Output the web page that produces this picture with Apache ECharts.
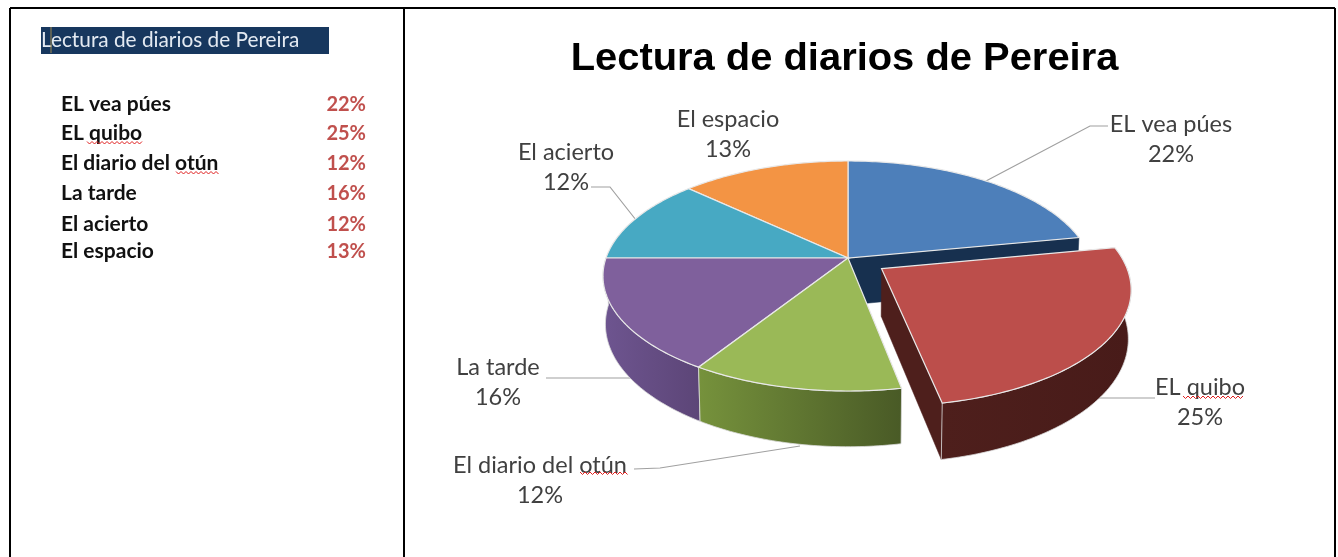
<!DOCTYPE html>
<html><head><meta charset="utf-8">
<style>html,body{margin:0;padding:0;background:#fff}#c{width:1338px;height:557px;filter:blur(0.45px)}</style>
<script src="https://cdn.jsdelivr.net/npm/echarts@6/dist/echarts.min.js"></script>
</head><body><div id="c"></div>
<script>
const chartTitle = 'Lectura de diarios de Pereira';
const categories = ['EL vea púes', 'EL quibo', 'El diario del otún', 'La tarde', 'El acierto', 'El espacio'];
const percentages = [22, 25, 12, 16, 12, 13];
const explodedIndex = 1;
const topColors = ['#4D7FBA', '#BC4E4B', '#9AB957', '#7F609C', '#47A9C3', '#F39444'];
const wallColors = [['#17304F', '#17304F'], ['#4E1F1C', '#481B19'], ['#76923C', '#495A26'], ['#6E5590', '#5C4577'], ['#31859C', '#31859C'], ['#E36C09', '#E36C09']];

// projection of the tilted disc
const CX = 848, CY = 258, RX = 242, RY = 112.2, P = 0.1565, H = 47, BX = 0.99, EXPLODE = 0.165;
const total = percentages.reduce((a, b) => a + b, 0);
const starts = []; percentages.reduce((acc, v, i) => (starts[i] = acc, acc + v), 0);
const ang = pct => pct / total * 2 * Math.PI;
function offset(i) {
  if (i !== explodedIndex) return [0, 0];
  const m = ang(starts[i] + percentages[i] / 2);
  return [EXPLODE * Math.sin(m), -EXPLODE * Math.cos(m)];
}
function proj(u, v, low) {
  const w = 1 - P * v;
  const x = RX * u / w, y = RY * v / w;
  return low ? [CX + x * BX, CY + y + H / w] : [CX + x, CY + y];
}
function arc(i, a0, a1, low) {
  const [ox, oy] = offset(i), pts = [], n = Math.max(2, Math.ceil(Math.abs(a1 - a0) * 60));
  for (let k = 0; k <= n; k++) {
    const a = a0 + (a1 - a0) * k / n;
    pts.push(proj(ox + Math.sin(a), oy - Math.cos(a), low));
  }
  return pts;
}
const apex = (i, low) => { const [ox, oy] = offset(i); return proj(ox, oy, low); };
const sA = i => ang(starts[i]), eA = i => ang(starts[i] + percentages[i]);

function topFace(i) { return [apex(i, false)].concat(arc(i, sA(i), eA(i), false)); }
function arcWall(i, a0, a1) { return arc(i, a0, a1, false).concat(arc(i, a0, a1, true).reverse()); }
function endWall(i) { const p = arc(i, eA(i), eA(i), false)[0], q = arc(i, eA(i), eA(i), true)[0]; return [apex(i, false), p, q, apex(i, true)]; }

// painter's order
const drawList = [
  { i: 0, part: 'end' }, { i: 0, part: 'top' }, { i: 5, part: 'top' }, { i: 4, part: 'top' },
  { i: 3, part: 'arc', to: 1.5 * Math.PI }, { i: 2, part: 'arc' }, { i: 3, part: 'top' }, { i: 2, part: 'top' },
  { i: 1, part: 'end' }, { i: 1, part: 'arc', from: 0.5 * Math.PI }, { i: 1, part: 'top' }
];
function grad(c) { return new echarts.graphic.LinearGradient(0, 0, 1, 0, [{ offset: 0, color: c[0] }, { offset: 1, color: c[1] }]); }
function renderSlice(params) {
  const d = drawList[params.dataIndex];
  let points, style;
  if (d.part === 'top') {
    points = topFace(d.i);
    style = { fill: topColors[d.i], stroke: '#E8E8E8', lineWidth: 1.2 };
  } else if (d.part === 'end') {
    points = endWall(d.i);
    style = { fill: wallColors[d.i][0], stroke: wallColors[d.i][0], lineWidth: 0.5 };
  } else {
    const a0 = d.from !== undefined ? Math.max(d.from, sA(d.i)) : sA(d.i);
    const a1 = d.to !== undefined ? Math.min(d.to, eA(d.i)) : eA(d.i);
    points = arcWall(d.i, a0, a1);
    style = { fill: grad(wallColors[d.i]), stroke: '#DADADA', lineWidth: 0.8 };
  }
  return { type: 'polygon', shape: { points }, style };
}

// left table
const tableRowY = [104, 133, 163, 193, 224, 251];
const frame = [[10, 557, 10, 8], [10, 8, 1335, 8], [404, 8, 404, 557], [1335, 8, 1335, 557]];
// data labels: centre of the two-line block
const labelLayout = [[1171, 139], [1200, 402], [540, 480], [498, 382], [566, 167], [728, 134]];
const leaders = [
  [[1108, 126], [1090, 126], [986, 181]],
  [[1155, 398], [1095, 398]],
  [[634, 469], [660, 468], [800, 446]],
  [[546, 378], [640, 378]],
  [[591, 187], [610, 187], [636, 220]]
];
const squiggles = [[87, 143, 142.5], [176, 219, 172.5], [1183, 1245, 397], [580, 628, 473]];

const font = 'Lato, "Noto Sans", sans-serif';
const graphics = [];
frame.forEach(f => graphics.push({ type: 'line', shape: { x1: f[0], y1: f[1], x2: f[2], y2: f[3] }, style: { stroke: '#000', lineWidth: 2 }, z: 1 }));
graphics.push({ type: 'rect', shape: { x: 41, y: 27, width: 288, height: 27 }, style: { fill: '#17375E' }, z: 1 });
graphics.push({ type: 'text', x: 41, y: 40, style: { text: chartTitle, fill: '#E4EAF2', font: '20.8px ' + font, textVerticalAlign: 'middle' }, z: 2 });
graphics.push({ type: 'line', shape: { x1: 51, y1: 27, x2: 51, y2: 53 }, style: { stroke: '#A08A50', lineWidth: 1 }, z: 3 });
categories.forEach((c, i) => {
  graphics.push({ type: 'text', x: 61, y: tableRowY[i], style: { text: c, fill: '#111', font: 'bold 21px ' + font, textVerticalAlign: 'middle' }, z: 2 });
  graphics.push({ type: 'text', x: 366, y: tableRowY[i] + 1, style: { text: percentages[i] + '%', fill: '#C0504D', font: 'bold 20px ' + font, textAlign: 'right', textVerticalAlign: 'middle' }, z: 2 });
  graphics.push({ type: 'text', x: labelLayout[i][0], y: labelLayout[i][1], style: { text: c + '\n' + percentages[i] + '%', fill: '#404040', font: '23.5px ' + font, textAlign: 'center', textVerticalAlign: 'middle', lineHeight: 30 }, z: 20 });
});
graphics.push({ type: 'text', x: 844.5, y: 60, scaleX: 1.05, style: { text: chartTitle, fill: '#000', font: 'bold 38px "Liberation Sans", Arial, sans-serif', textAlign: 'center', textVerticalAlign: 'middle' }, z: 20 });
leaders.forEach(l => graphics.push({ type: 'polyline', shape: { points: l }, style: { stroke: '#A0A0A0', lineWidth: 1.2, fill: null }, z: 0 }));
squiggles.forEach(s => {
  const pts = []; for (let x = s[0], k = 0; x <= s[1]; x += 2.5, k++) pts.push([x, s[2] + (k % 2 ? 1.5 : -1)]);
  graphics.push({ type: 'polyline', shape: { points: pts }, style: { stroke: '#E02020', lineWidth: 1, fill: null }, z: 21 });
});

const chart = echarts.init(document.getElementById('c'), null, { renderer: 'canvas' });
chart.setOption({
  animation: false,
  backgroundColor: '#fff',
  graphic: { elements: graphics },
  series: [{
    type: 'custom',
    coordinateSystem: 'none',
    renderItem: renderSlice,
    silent: true,
    z: 5,
    data: drawList.map(d => ({ name: categories[d.i], value: percentages[d.i] }))
  }]
});
</script></body></html>
